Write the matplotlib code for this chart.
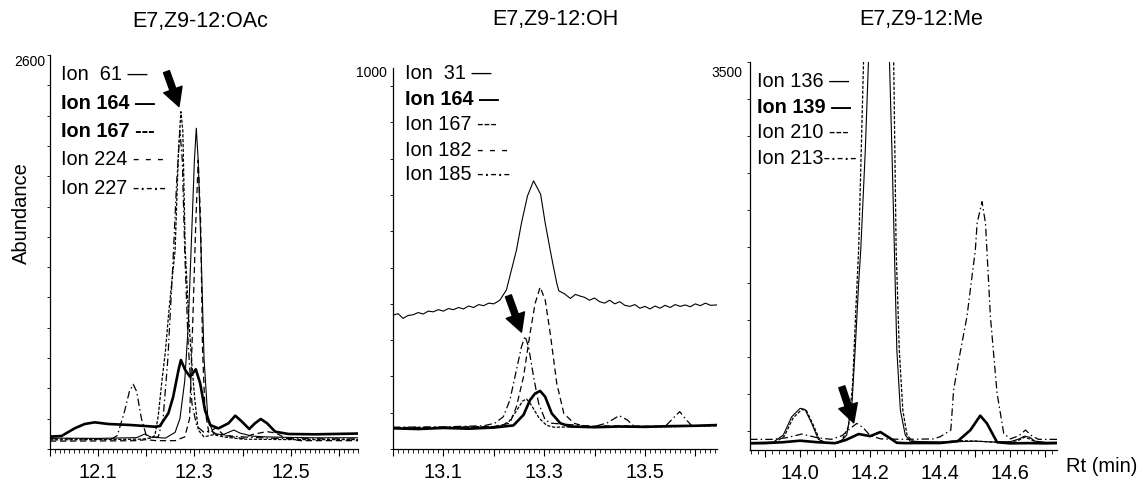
import matplotlib
matplotlib.use('Agg')
import matplotlib.pyplot as plt
import numpy as np

plt.rcParams['font.family'] = ['Liberation Sans', 'DejaVu Sans']

# ---------------- Panel 1 : E7,Z9-12:OAc ----------------
oac_title = "E7,Z9-12:OAc"
oac_rt_61 = [12.00, 12.10, 12.18, 12.197, 12.21, 12.24, 12.26, 12.27, 12.28, 12.287, 12.293, 12.300, 12.304, 12.308, 12.314, 12.320, 12.328, 12.34, 12.36, 12.382, 12.395, 12.42, 12.45, 12.50, 12.55, 12.64]
oac_ab_61 = [72, 70, 75, 99, 78, 72, 110, 200, 450, 800, 1300, 1900, 2117, 1900, 1300, 600, 200, 100, 95, 125, 105, 85, 80, 76, 74, 74]
oac_rt_164 = [11.996, 12.024, 12.051, 12.072, 12.093, 12.121, 12.169, 12.218, 12.228, 12.246, 12.256, 12.267, 12.272, 12.281, 12.291, 12.303, 12.312, 12.322, 12.333, 12.35, 12.371, 12.385, 12.399, 12.414, 12.426, 12.438, 12.451, 12.468, 12.496, 12.551, 12.64]
oac_ab_164 = [81, 86, 136, 165, 176, 165, 158, 147, 151, 236, 345, 521, 587, 521, 477, 526, 434, 257, 158, 136, 170, 220, 180, 132, 170, 198, 170, 114, 99, 97, 102]
oac_rt_167 = [12.00, 12.10, 12.19, 12.21, 12.218, 12.225, 12.232, 12.24, 12.246, 12.253, 12.26, 12.267, 12.272, 12.276, 12.281, 12.288, 12.295, 12.301, 12.308, 12.32, 12.34, 12.36, 12.40, 12.50, 12.64]
oac_ab_167 = [60, 62, 65, 72, 90, 220, 434, 650, 873, 1100, 1313, 1973, 2226, 2100, 1313, 873, 550, 323, 125, 80, 95, 80, 65, 62, 62]
oac_rt_224 = [12.00, 12.10, 12.18, 12.20, 12.22, 12.26, 12.28, 12.29, 12.297, 12.303, 12.308, 12.313, 12.317, 12.322, 12.33, 12.345, 12.36, 12.38, 12.40, 12.42, 12.45, 12.47, 12.49, 12.52, 12.64]
oac_ab_224 = [52, 53, 55, 62, 55, 55, 80, 200, 873, 1500, 1907, 1500, 653, 257, 110, 140, 95, 80, 70, 95, 115, 105, 70, 55, 55]
oac_rt_227 = [12.00, 12.10, 12.13, 12.14, 12.155, 12.165, 12.173, 12.18, 12.19, 12.20, 12.21, 12.225, 12.235, 12.245, 12.255, 12.263, 12.27, 12.275, 12.28, 12.287, 12.295, 12.305, 12.32, 12.335, 12.35, 12.38, 12.40, 12.45, 12.50, 12.64]
oac_ab_227 = [68, 66, 68, 90, 250, 380, 427, 380, 200, 90, 75, 80, 200, 600, 1200, 1750, 2100, 1900, 1300, 700, 300, 150, 110, 120, 90, 85, 80, 72, 68, 66]
oac_legend = ["Ion  61 \u2014", "Ion 164 \u2014", "Ion 167 ---", "Ion 224 - - -", "Ion 227 -\u00b7-\u00b7-"]
oac_legend_bold = [False, True, True, False, False]
oac_xticks = [12.0, 12.1, 12.2, 12.3, 12.4, 12.5, 12.6]
oac_xticklabels = ["", "12.1", "", "12.3", "", "12.5", ""]
oac_ymax_label = "2600"

# ---------------- Panel 2 : E7,Z9-12:OH ----------------
oh_title = "E7,Z9-12:OH"
oh_rt_31 = [13.00, 13.01, 13.02, 13.03, 13.04, 13.05, 13.06, 13.07, 13.08, 13.09, 13.10, 13.11, 13.12, 13.13, 13.14, 13.15, 13.16, 13.17, 13.18, 13.19, 13.20, 13.212, 13.225, 13.235, 13.245, 13.255, 13.267, 13.279, 13.293, 13.302, 13.312, 13.317, 13.325, 13.329, 13.34, 13.352, 13.362, 13.37, 13.38, 13.39, 13.40, 13.41, 13.42, 13.43, 13.44, 13.45, 13.46, 13.47, 13.48, 13.49, 13.50, 13.51, 13.52, 13.53, 13.54, 13.55, 13.56, 13.57, 13.58, 13.59, 13.60, 13.61, 13.62, 13.63, 13.643]
oh_ab_31 = [319, 323, 310, 318, 320, 326, 322, 330, 328, 334, 330, 337, 334, 340, 336, 344, 340, 348, 345, 352, 350, 360, 388, 443, 498, 573, 648, 689, 652, 573, 498, 462, 407, 386, 378, 365, 376, 372, 368, 360, 366, 356, 352, 360, 350, 356, 346, 343, 348, 338, 343, 336, 344, 338, 346, 340, 348, 343, 347, 342, 350, 345, 352, 346, 347]
oh_rt_164 = [13.00, 13.05, 13.10, 13.15, 13.20, 13.239, 13.259, 13.272, 13.282, 13.292, 13.302, 13.315, 13.332, 13.352, 13.40, 13.45, 13.50, 13.55, 13.60, 13.643]
oh_ab_164 = [7, 5, 8, 6, 9, 15, 44, 85, 103, 110, 94, 48, 21, 12, 10, 12, 11, 13, 14, 16]
oh_rt_167 = [13.00, 13.10, 13.21, 13.23, 13.245, 13.257, 13.265, 13.275, 13.29, 13.305, 13.32, 13.40, 13.50, 13.643]
oh_ab_167 = [8, 9, 12, 25, 55, 82, 88, 70, 35, 15, 10, 12, 10, 14]
oh_rt_182 = [13.00, 13.10, 13.20, 13.232, 13.245, 13.259, 13.272, 13.282, 13.292, 13.302, 13.312, 13.325, 13.339, 13.359, 13.379, 13.45, 13.55, 13.643]
oh_ab_182 = [9, 10, 12, 21, 67, 149, 269, 351, 396, 361, 269, 131, 48, 21, 13, 14, 12, 15]
oh_rt_185 = [13.00, 13.10, 13.18, 13.202, 13.219, 13.232, 13.245, 13.255, 13.262, 13.269, 13.279, 13.289, 13.302, 13.315, 13.40, 13.425, 13.449, 13.465, 13.479, 13.54, 13.556, 13.569, 13.581, 13.593, 13.643]
oh_ab_185 = [10, 11, 14, 21, 39, 85, 168, 232, 261, 232, 149, 76, 30, 21, 12, 22, 42, 30, 12, 12, 35, 53, 32, 14, 16]
oh_legend = ["Ion  31 \u2014", "Ion 164 \u2014", "Ion 167 ---", "Ion 182 - - -", "Ion 185 -\u00b7-\u00b7-"]
oh_legend_bold = [False, True, False, False, False]
oh_xticks = [13.0, 13.1, 13.2, 13.3, 13.4, 13.5, 13.6]
oh_xticklabels = ["", "13.1", "", "13.3", "", "13.5", ""]
oh_ymax_label = "1000"

# ---------------- Panel 3 : E7,Z9-12:Me ----------------
me_title = "E7,Z9-12:Me"
me_rt_136 = [13.857, 13.90, 13.924, 13.952, 13.976, 14.00, 14.014, 14.033, 14.052, 14.076, 14.10, 14.114, 14.133, 14.148, 14.157, 14.167, 14.173, 14.186, 14.195, 14.21, 14.225, 14.24, 14.255, 14.262, 14.269, 14.276, 14.286, 14.30, 14.314, 14.35, 14.40, 14.45, 14.50, 14.55, 14.60, 14.625, 14.64, 14.655, 14.67, 14.70, 14.733]
me_ab_136 = [68, 70, 72, 135, 300, 376, 366, 240, 96, 60, 58, 70, 135, 421, 902, 1504, 1804, 2706, 3502, 5500, 6500, 5500, 3500, 2706, 1804, 902, 361, 135, 80, 75, 72, 75, 80, 72, 75, 100, 125, 115, 80, 70, 70]
me_rt_139 = [13.857, 13.90, 13.95, 14.00, 14.05, 14.10, 14.13, 14.167, 14.20, 14.229, 14.25, 14.276, 14.30, 14.35, 14.40, 14.45, 14.486, 14.514, 14.533, 14.562, 14.60, 14.65, 14.70, 14.733]
me_ab_139 = [60, 62, 70, 84, 70, 62, 90, 144, 125, 162, 120, 65, 62, 63, 63, 80, 180, 310, 240, 70, 60, 62, 60, 62]
me_rt_210 = [13.857, 13.90, 13.928, 13.955, 13.98, 14.005, 14.018, 14.037, 14.056, 14.08, 14.10, 14.12, 14.138, 14.15, 14.158, 14.167, 14.181, 14.20, 14.225, 14.25, 14.267, 14.274, 14.283, 14.293, 14.305, 14.32, 14.35, 14.40, 14.45, 14.50, 14.55, 14.60, 14.625, 14.64, 14.655, 14.67, 14.70, 14.733]
me_ab_210 = [62, 64, 66, 125, 290, 366, 356, 230, 90, 58, 60, 90, 210, 600, 1200, 1804, 3502, 6000, 7000, 5500, 3502, 1804, 902, 361, 135, 80, 70, 68, 85, 80, 72, 70, 90, 115, 100, 75, 66, 66]
me_rt_213 = [13.857, 13.92, 13.96, 14.005, 14.05, 14.09, 14.12, 14.145, 14.162, 14.18, 14.20, 14.23, 14.30, 14.38, 14.40, 14.43, 14.438, 14.455, 14.476, 14.50, 14.505, 14.519, 14.529, 14.533, 14.543, 14.562, 14.581, 14.60, 14.625, 14.643, 14.66, 14.68, 14.733]
me_ab_213 = [96, 96, 110, 144, 110, 96, 130, 200, 240, 200, 130, 100, 96, 100, 120, 180, 541, 850, 1202, 1804, 2045, 2240, 2045, 1804, 1202, 511, 150, 100, 130, 180, 130, 96, 96]
me_legend = ["Ion 136 \u2014", "Ion 139 \u2014", "Ion 210 ---", "Ion 213-\u00b7-\u00b7-"]
me_legend_bold = [False, True, False, False]
me_xticks = [13.9, 14.0, 14.1, 14.2, 14.3, 14.4, 14.5, 14.6, 14.7]
me_xticklabels = ["", "14.0", "", "14.2", "", "14.4", "", "14.6", ""]
me_ymax_label = "3500"

# ---------------- styles ----------------
W, H = 1143, 482
THIN = dict(color='black', lw=0.8, ls='-')
THICK = dict(color='black', lw=1.9, ls='-')
DENSE = dict(color='black', lw=0.9, ls=(0, (2.6, 1.3)))
DASH = dict(color='black', lw=0.9, ls=(0, (5, 3)))
DASHDOT = dict(color='black', lw=0.9, ls=(0, (6, 2.5, 1.2, 2.5)))
LEG_FS = 14.3
TICK_FS = 14.3

fig = plt.figure(figsize=(W / 100, H / 100), dpi=100)


def px_axes(left, top, right, bottom):
    return fig.add_axes([left / W, 1 - bottom / H, (right - left) / W, (bottom - top) / H])


def setup(ax, xlim, ylim, xticks, xticklabels, xminor, yticks):
    ax.set_xlim(*xlim)
    ax.set_ylim(*ylim)
    for s in ('top', 'right'):
        ax.spines[s].set_visible(False)
    for s in ('left', 'bottom'):
        ax.spines[s].set_linewidth(0.9)
    ax.set_xticks(xticks)
    ax.set_xticklabels(xticklabels)
    ax.set_xticks(xminor, minor=True)
    ax.set_yticks(yticks)
    ax.set_yticklabels([])
    ax.tick_params(axis='x', which='major', direction='out', length=5, width=0.8, labelsize=TICK_FS, pad=5)
    ax.tick_params(axis='x', which='minor', direction='out', length=3, width=0.6)
    ax.tick_params(axis='y', which='major', direction='out', length=2.5, width=0.6)


def legend(x, ys, labels, bold):
    for y, lab, b in zip(ys, labels, bold):
        fig.text(x / W, 1 - y / H, lab, ha='left', va='center', fontsize=LEG_FS,
                 fontweight='bold' if b else 'normal')


def arrow(ax, tail, tip):
    ax.annotate('', xy=tip, xytext=tail,
                arrowprops=dict(facecolor='black', edgecolor='black', width=4.5,
                                headwidth=14, headlength=13, shrink=0))


# Panel 1
ax1 = px_axes(50, 55, 358, 449)
setup(ax1, (12.0, 12.64), (0, 2600), oac_xticks, oac_xticklabels,
      np.arange(12.0, 12.641, 0.01), np.arange(0, 2601, 200))
ax1.plot(oac_rt_224, oac_ab_224, **DASH)
ax1.plot(oac_rt_227, oac_ab_227, **DASHDOT)
ax1.plot(oac_rt_167, oac_ab_167, **DENSE)
ax1.plot(oac_rt_61, oac_ab_61, **THIN)
ax1.plot(oac_rt_164, oac_ab_164, **THICK)
arrow(ax1, (12.242, 2490), (12.268, 2260))
legend(61, [75, 103.3, 131.7, 160, 188], oac_legend, oac_legend_bold)
fig.text(45 / W, 1 - 62 / H, oac_ymax_label, ha='right', va='center', fontsize=10)
fig.text(200 / W, 1 - 22 / H, oac_title, ha='center', va='center', fontsize=15.5)
fig.text(21 / W, 1 - 213 / H, "Abundance", ha='center', va='center', rotation=90, fontsize=14.5)

# Panel 2
ax2 = px_axes(393, 68, 717, 449)
setup(ax2, (13.0, 13.643), (-50, 1000), oh_xticks, oh_xticklabels,
      np.arange(13.0, 13.641, 0.01), np.arange(-50, 1000, 100))
ax2.plot(oh_rt_182, oh_ab_182, **DASH)
ax2.plot(oh_rt_185, oh_ab_185, **DASHDOT)
ax2.plot(oh_rt_167, oh_ab_167, **DENSE)
ax2.plot(oh_rt_31, oh_ab_31, **THIN)
ax2.plot(oh_rt_164, oh_ab_164, **THICK)
arrow(ax2, (13.229, 372), (13.255, 272))
legend(405, [73.3, 99.3, 125, 150, 175], oh_legend, oh_legend_bold)
fig.text(387 / W, 1 - 73 / H, oh_ymax_label, ha='right', va='center', fontsize=10)
fig.text(555 / W, 1 - 20 / H, oh_title, ha='center', va='center', fontsize=15.5)

# Panel 3
ax3 = px_axes(750, 62, 1057, 450)
setup(ax3, (13.857, 14.733), (0, 3500), me_xticks, me_xticklabels,
      np.arange(13.86, 14.733, 0.02), np.arange(3500, -1, -333))
ax3.plot(me_rt_213, me_ab_213, **DASHDOT)
ax3.plot(me_rt_210, me_ab_210, **DENSE)
ax3.plot(me_rt_136, me_ab_136, **THIN)
ax3.plot(me_rt_139, me_ab_139, **THICK)
arrow(ax3, (14.119, 570), (14.153, 245))
legend(756.7, [81.7, 107.3, 132.7, 158.3], me_legend, me_legend_bold)
fig.text(742 / W, 1 - 73 / H, me_ymax_label, ha='right', va='center', fontsize=10)
fig.text(921 / W, 1 - 20 / H, me_title, ha='center', va='center', fontsize=15.5)
fig.text(1066 / W, 1 - 467 / H, "Rt (min)", ha='left', va='center', fontsize=14.5)

fig.savefig('out.png', dpi=100)
